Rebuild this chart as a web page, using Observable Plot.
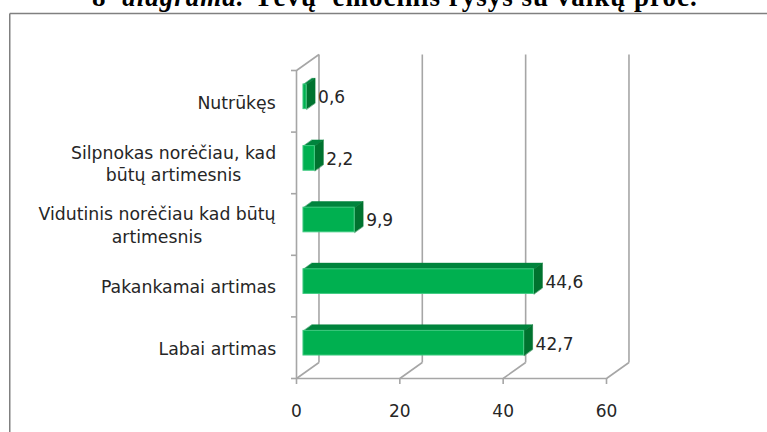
<!DOCTYPE html>
<html><head><meta charset="utf-8">
<script src="https://cdn.jsdelivr.net/npm/d3@7"></script>
<script src="https://cdn.jsdelivr.net/npm/@observablehq/plot@0.6"></script>
<style>
html,body{margin:0;padding:0;background:#fff;width:767px;height:432px;overflow:hidden}
#wrap{position:relative;width:767px;height:432px;overflow:hidden}
#title{position:absolute;left:92px;top:-18px;white-space:pre;font:bold 27px "Liberation Serif",serif;color:#000;letter-spacing:1px}
#title i{margin-left:8px;margin-right:-5px}
#chart{position:absolute;left:0;top:0}
svg{display:block}
</style></head><body>
<div id="wrap"><div id="chart"></div><div id="title">8 <i>diagrama.</i>  Tėvų  emocinis ryšys su vaikų proc.</div></div>
<script>
// Data
const categories = ["Labai artimas","Pakankamai artimas","Vidutinis norėčiau kad būtų\nartimesnis","Silpnokas norėčiau, kad\nbūtų artimesnis","Nutrūkęs"];
const values = [42.7,44.6,9.9,2.2,0.6];
const valueLabels = ["42,7","44,6","9,9","2,2","0,6"];
const xTicks = [0,20,40,60];
const slots = [0,1,2,3,4,5];

// Pseudo-3D layout, in data units of the two scales
const wallX = 4.35, wallY = 0.26;
const barStart = 1.35, barLift = 0.073, barHalf = 0.2, barDepthX = 1.65, barDepthY = 0.1;
const labelCenters = [-15.3,-20.9,-27.0,-23.8,-11.6];
const frameLeft = -55.5, frameTop = 5.925, frameBottom = -0.877, frameRight = 92;

const gridColor = "#a6a6a6", ink = "#262626", font = "DejaVu Sans";
const bars = values.map((v,i)=>({i,v,lo:i+0.5+barLift-barHalf,hi:i+0.5+barLift+barHalf,x1:barStart,x2:barStart+v,label:valueLabels[i],name:categories[i]}));
const topFace = bars.flatMap(b=>[[b.x1,b.hi],[b.x2,b.hi],[b.x2+barDepthX,b.hi+barDepthY],[b.x1+barDepthX,b.hi+barDepthY]].map(p=>({k:b.i,x:p[0],y:p[1]})));
const sideFace = bars.flatMap(b=>[[b.x2,b.lo],[b.x2,b.hi],[b.x2+barDepthX,b.hi+barDepthY],[b.x2+barDepthX,b.lo+barDepthY]].map(p=>({k:b.i,x:p[0],y:p[1]})));

const plot = Plot.plot({
  width:767,height:432,marginLeft:296,marginRight:161,marginTop:70,marginBottom:54,
  style:{background:"#fff",overflow:"visible"},
  x:{domain:[0,60],axis:null},
  y:{domain:[0,5],axis:null},
  marks:[
    // outer chart border
    Plot.link([0],{x1:frameLeft,x2:frameRight,y1:frameTop,y2:frameTop,stroke:"#808080",strokeWidth:1.5}),
    Plot.link([0],{x1:frameLeft,x2:frameLeft,y1:frameTop,y2:frameBottom,stroke:"#808080",strokeWidth:1.5}),
    // back wall verticals and floor diagonals
    Plot.link(xTicks,{x1:d=>d+wallX,x2:d=>d+wallX,y1:wallY,y2:5+wallY,stroke:gridColor,strokeWidth:1.6}),
    Plot.link(xTicks,{x1:d=>d,x2:d=>d+wallX,y1:0,y2:wallY,stroke:gridColor,strokeWidth:1.6}),
    Plot.link([0],{x1:0,x2:wallX,y1:5,y2:5+wallY,stroke:gridColor,strokeWidth:1.6}),
    Plot.ruleX([0],{y1:0,y2:5,stroke:gridColor,strokeWidth:1.6}),
    Plot.ruleY([0],{x1:0,x2:60,stroke:gridColor,strokeWidth:1.6}),
    // axes
    Plot.axisX({ticks:xTicks,tickSize:6,tickPadding:20,tickFormat:String,fontSize:17,fontFamily:font,fill:ink,stroke:gridColor,strokeWidth:1.6,label:null,anchor:"bottom"}),
    Plot.axisY({ticks:slots,tickSize:5,tickFormat:()=>"",stroke:gridColor,strokeWidth:1.6,label:null,anchor:"left"}),
    // bars
    Plot.line(topFace,{x:"x",y:"y",z:"k",curve:"linear-closed",fill:"#00843d",stroke:"#00843d",strokeWidth:0.5}),
    Plot.line(sideFace,{x:"x",y:"y",z:"k",curve:"linear-closed",fill:"#00732f",stroke:"#00732f",strokeWidth:0.5}),
    Plot.rect(bars,{x1:"x1",x2:"x2",y1:"lo",y2:"hi",fill:"#00b050",stroke:"#3fca80",strokeWidth:1}),
    // value labels
    Plot.text(bars,{x:d=>d.x2+barDepthX,y:d=>(d.lo+d.hi)/2,text:"label",textAnchor:"start",dx:3,dy:1,fontSize:17,fontFamily:font,fill:ink}),
    // category labels
    Plot.text(bars,{x:d=>labelCenters[d.i],y:d=>d.i+0.5,text:"name",textAnchor:"middle",lineHeight:1.3,dy:0,fontSize:17.3,fontFamily:font,fill:ink})
  ]
});
document.getElementById("chart").appendChild(plot);
</script>
</body></html>
